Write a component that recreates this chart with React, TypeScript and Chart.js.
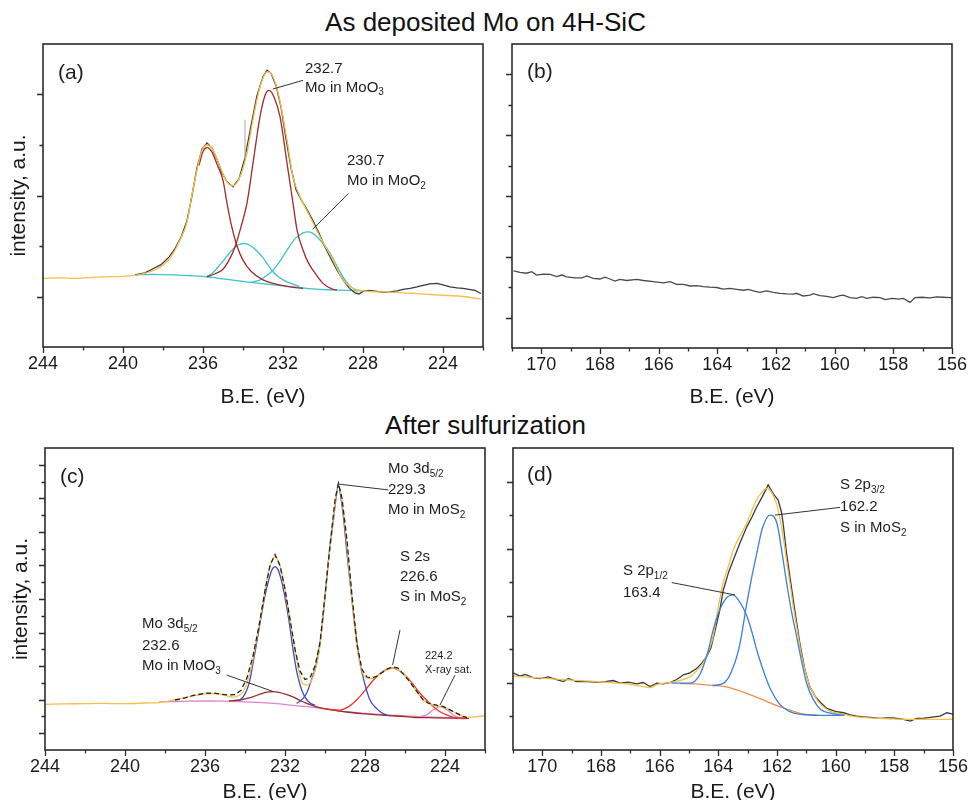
import React, { useEffect, useRef } from 'react';
import { Chart, registerables } from 'chart.js';

Chart.register(...registerables);

type Pt = [number, number];
type Seg = [number, number, number, number];

const FONT = '"Liberation Sans", Arial, Helvetica, sans-serif';
Chart.defaults.font.family = FONT;

// ---------- text ----------
const topTitle = 'As deposited Mo on 4H-SiC';
const bottomTitle = 'After sulfurization';
const xTitle = 'B.E. (eV)';
const yTitle = 'intensity, a.u.';

// ---------- axes ----------
const moRange: Pt = [222, 244];
const sRange: Pt = [156, 171];
const moTickLabels = [244, 240, 236, 232, 228, 224];
const sTickLabels = [170, 168, 166, 164, 162, 160, 158, 156];

// ---------- panel (a): Mo 3d, as deposited ----------
const aRaw: Pt[] = [
  [239.4, 1.43], [238.9, 1.47], [238.5, 1.55], [238.1, 1.63], [237.7, 1.78], [237.4, 1.95], [237.1, 2.17],
  [236.8, 2.5], [236.55, 3.0], [236.3, 3.55], [236.05, 3.92], [235.8, 4.04], [235.55, 3.94], [235.3, 3.72],
  [235.05, 3.45], [234.8, 3.27], [234.5, 3.17], [234.2, 3.33], [233.9, 3.75], [233.6, 4.38], [233.3, 4.98],
  [233.0, 5.35], [232.8, 5.48], [232.6, 5.42], [232.35, 5.18], [232.1, 4.75], [231.85, 4.12], [231.6, 3.55],
  [231.35, 3.12], [231.1, 2.92], [230.8, 2.72], [230.5, 2.5], [230.2, 2.25], [229.9, 1.98], [229.6, 1.75],
  [229.3, 1.52], [229.0, 1.33], [228.7, 1.17], [228.4, 1.07], [228.2, 1.05], [228.0, 1.1], [227.7, 1.12],
  [227.3, 1.1], [227.0, 1.08], [226.65, 1.09], [226.3, 1.11], [226.0, 1.14], [225.65, 1.16], [225.3, 1.19],
  [225.0, 1.22], [224.65, 1.25], [224.3, 1.26], [224.0, 1.23], [223.65, 1.19], [223.3, 1.17], [223.0, 1.16],
  [222.7, 1.14], [222.4, 1.12], [222.1, 1.06],
];
const aEnvelope: Pt[] = [
  [244.0, 1.36], [243.2, 1.37], [242.4, 1.36], [241.6, 1.38], [240.8, 1.39], [240.0, 1.4], [239.4, 1.42],
  [238.65, 1.49], [238.0, 1.62], [237.5, 1.85], [237.15, 2.12], [236.8, 2.47], [236.57, 2.98], [236.3, 3.5],
  [236.07, 3.87], [235.8, 4.0], [235.5, 3.9], [235.15, 3.57], [234.8, 3.27], [234.5, 3.19], [234.15, 3.37],
  [233.8, 3.84], [233.5, 4.5], [233.15, 5.15], [232.8, 5.45], [232.55, 5.39], [232.2, 4.96], [231.8, 4.1],
  [231.5, 3.37], [231.15, 2.98], [230.65, 2.58], [230.15, 2.18], [229.5, 1.72], [229.0, 1.33], [228.5, 1.16],
  [228.0, 1.11], [227.0, 1.09], [226.3, 1.08], [225.5, 1.06], [224.65, 1.04], [223.8, 1.02], [223.0, 1.0],
  [222.1, 0.95],
];
const aBackground: Pt[] = [
  [239.4, 1.43], [238.5, 1.44], [237.5, 1.43], [236.5, 1.41], [235.8, 1.39], [235.0, 1.35], [234.2, 1.31],
  [233.4, 1.27], [232.7, 1.24], [232.0, 1.21], [231.2, 1.18], [230.5, 1.15], [229.5, 1.13], [228.8, 1.12],
  [228.0, 1.11],
];
const aMoO2Peak1: Pt[] = [
  [235.8, 1.4], [235.5, 1.47], [235.3, 1.56], [235.0, 1.7], [234.8, 1.8], [234.5, 1.94], [234.2, 2.03],
  [233.9, 2.05], [233.6, 2.0], [233.3, 1.9], [233.0, 1.77], [232.75, 1.62], [232.5, 1.49], [232.2, 1.38],
  [231.9, 1.31], [231.6, 1.26], [231.2, 1.2],
];
const aMoO2Peak2: Pt[] = [
  [233.6, 1.28], [233.15, 1.33], [232.8, 1.42], [232.5, 1.52], [232.1, 1.73], [231.8, 1.92], [231.4, 2.14],
  [231.0, 2.26], [230.7, 2.28], [230.4, 2.22], [230.0, 2.05], [229.65, 1.86], [229.3, 1.6], [229.0, 1.39],
  [228.7, 1.23], [228.5, 1.16], [228.2, 1.12],
];
const aMoO3Peak1: Pt[] = [
  [236.2, 3.6], [236.0, 3.87], [235.8, 3.95], [235.55, 3.86], [235.3, 3.62], [235.0, 3.3], [234.8, 2.85],
  [234.6, 2.45], [234.3, 2.0], [234.0, 1.72], [233.6, 1.5], [233.0, 1.33], [232.4, 1.25], [231.8, 1.2],
  [231.0, 1.16],
];
const aMoO3Peak2: Pt[] = [
  [235.8, 1.39], [235.4, 1.45], [235.0, 1.54], [234.7, 1.72], [234.4, 1.98], [234.1, 2.38], [233.8, 2.85],
  [233.5, 3.64], [233.15, 4.56], [232.9, 4.98], [232.7, 5.08], [232.45, 4.95], [232.15, 4.56], [231.8, 3.64],
  [231.5, 2.85], [231.3, 2.32], [231.0, 1.92], [230.75, 1.68], [230.5, 1.52], [230.0, 1.26], [229.5, 1.14],
  [229.3, 1.13],
];
const aSpike: Pt[] = [[233.9, 4.5], [233.9, 3.72]];

// ---------- panel (b): S 2p, as deposited ----------
const bRaw: Pt[] = [
  [170.95, 2.54], [170.73, 2.49], [170.5, 2.46], [170.33, 2.51], [170.16, 2.4], [169.93, 2.43], [169.7, 2.42],
  [169.48, 2.35], [169.3, 2.4], [169.14, 2.34], [168.85, 2.31], [168.62, 2.31], [168.45, 2.37], [168.23, 2.29],
  [168.0, 2.27], [167.83, 2.33], [167.66, 2.27], [167.49, 2.2], [167.32, 2.26], [167.09, 2.22], [166.75, 2.26],
  [166.52, 2.22], [166.18, 2.18], [165.84, 2.14], [165.61, 2.18], [165.39, 2.09], [165.16, 2.09], [164.93, 2.04],
  [164.7, 2.05], [164.48, 2.02], [164.25, 2.0], [164.02, 1.99], [163.8, 1.94], [163.57, 1.96], [163.34, 1.93],
  [163.11, 1.9], [162.94, 1.93], [162.77, 1.88], [162.55, 1.83], [162.32, 1.88], [162.09, 1.83], [161.86, 1.8],
  [161.64, 1.78], [161.41, 1.77], [161.3, 1.8], [161.07, 1.71], [160.84, 1.74], [160.73, 1.79], [160.5, 1.72],
  [160.27, 1.7], [160.05, 1.66], [159.82, 1.72], [159.7, 1.74], [159.48, 1.66], [159.25, 1.63], [159.08, 1.69],
  [158.91, 1.63], [158.68, 1.67], [158.45, 1.66], [158.28, 1.59], [158.05, 1.63], [157.82, 1.61], [157.66, 1.63],
  [157.43, 1.5], [157.26, 1.66], [157.03, 1.67], [156.75, 1.65], [156.52, 1.68], [156.3, 1.67], [156.07, 1.66],
  [156.0, 1.66],
];

// ---------- panel (c): Mo 3d + S 2s, after sulfurization ----------
const cEnvelope: Pt[] = [
  [244.0, 2.72], [243.0, 2.75], [242.0, 2.76], [241.25, 2.78], [240.0, 2.76], [239.0, 2.8], [238.2, 2.84],
  [237.58, 2.98], [237.0, 3.12], [236.58, 3.22], [236.0, 3.34], [235.5, 3.36], [235.08, 3.28], [234.58, 3.15],
  [234.3, 3.25], [234.08, 3.5], [233.75, 4.6], [233.42, 6.6], [233.08, 8.9], [232.83, 10.6], [232.5, 11.52],
  [232.17, 10.6], [231.83, 8.3], [231.5, 5.96], [231.17, 4.07], [230.92, 3.87], [230.58, 4.4], [230.25, 6.2],
  [229.92, 10.2], [229.58, 13.8], [229.33, 15.8], [229.08, 14.2], [228.75, 10.2], [228.42, 6.3], [228.08, 4.5],
  [227.75, 4.25], [227.42, 4.37], [227.08, 4.67], [226.58, 4.9], [226.08, 4.55], [225.58, 3.77], [225.08, 2.98],
  [224.58, 2.66], [224.08, 2.55], [223.42, 2.19], [222.92, 1.95], [222.5, 1.98], [222.0, 2.03],
];
const cRaw: Pt[] = [
  [237.5, 2.98], [237.0, 3.1], [236.6, 3.25], [236.0, 3.38], [235.6, 3.4], [235.2, 3.32], [234.8, 3.28],
  [234.5, 3.3], [234.2, 3.55], [233.9, 4.3], [233.6, 5.6], [233.3, 7.4], [233.0, 9.5], [232.75, 11.0],
  [232.5, 11.65], [232.25, 11.0], [232.0, 9.6], [231.75, 7.8], [231.5, 6.0], [231.25, 4.7], [231.0, 4.2],
  [230.75, 4.3], [230.5, 5.0], [230.25, 6.4], [230.0, 9.2], [229.75, 12.2], [229.5, 14.9], [229.33, 15.9],
  [229.15, 15.0], [228.9, 12.5], [228.65, 9.2], [228.4, 6.3], [228.15, 4.8], [227.9, 4.35], [227.65, 4.3],
  [227.4, 4.4], [227.1, 4.65], [226.85, 4.85], [226.6, 4.95], [226.35, 4.88], [226.1, 4.55], [225.85, 4.2],
  [225.6, 3.8], [225.35, 3.4], [225.1, 3.0], [224.85, 2.8], [224.6, 2.72], [224.35, 2.65], [224.1, 2.6],
  [223.85, 2.45], [223.6, 2.3], [223.35, 2.15], [223.1, 2.0], [222.9, 1.93],
];
const cBackground: Pt[] = [
  [238.3, 2.86], [237.75, 2.88], [236.8, 2.91], [235.92, 2.92], [235.0, 2.91], [234.25, 2.88], [233.4, 2.84],
  [232.58, 2.78], [231.7, 2.68], [230.92, 2.58], [230.0, 2.44], [229.25, 2.32], [228.4, 2.22], [227.58, 2.15],
  [226.7, 2.08], [225.92, 2.03], [225.0, 1.98], [224.25, 1.95], [223.5, 1.91], [222.92, 1.89],
];
const cXraySat: Pt[] = [
  [225.2, 2.0], [224.9, 2.1], [224.6, 2.38], [224.25, 2.58], [223.9, 2.4], [223.6, 2.1], [223.3, 1.93],
  [223.0, 1.9],
];
const cMoO3: Pt[] = [
  [234.8, 2.92], [234.25, 2.98], [233.9, 3.07], [233.58, 3.18], [233.2, 3.35], [232.9, 3.45], [232.6, 3.48],
  [232.3, 3.44], [231.9, 3.3], [231.58, 3.15], [231.2, 2.92], [230.92, 2.78], [230.5, 2.6], [230.08, 2.48],
  [229.5, 2.36], [228.8, 2.25], [228.0, 2.15], [227.0, 2.06], [226.0, 1.99], [225.58, 1.95], [224.5, 1.92],
  [223.5, 1.9], [222.8, 1.89],
];
const cS2s: Pt[] = [
  [230.08, 2.48], [229.6, 2.4], [229.25, 2.38], [228.8, 2.6], [228.42, 2.98], [228.0, 3.55], [227.58, 4.17],
  [227.2, 4.6], [226.92, 4.8], [226.58, 4.88], [226.25, 4.7], [225.92, 4.37], [225.58, 3.9], [225.25, 3.38],
  [224.9, 2.95], [224.58, 2.58], [224.25, 2.28], [223.92, 2.09], [223.6, 1.96], [223.25, 1.89], [222.9, 1.87],
];
const cMoS2Peak1: Pt[] = [
  [234.3, 2.95], [234.1, 3.15], [233.9, 3.6], [233.75, 4.2], [233.58, 5.3], [233.4, 6.5], [233.2, 7.9],
  [233.0, 9.2], [232.8, 10.2], [232.65, 10.75], [232.5, 10.93], [232.35, 10.75], [232.2, 10.2], [232.0, 9.1],
  [231.8, 7.7], [231.6, 6.0], [231.4, 4.6], [231.2, 3.7], [231.0, 3.15], [230.75, 2.8], [230.5, 2.66],
];
const cMoS2Peak2: Pt[] = [
  [231.42, 2.78], [231.2, 2.95], [230.92, 3.38], [230.7, 4.1], [230.42, 5.17], [230.2, 6.8], [230.0, 9.14],
  [229.8, 11.6], [229.58, 13.7], [229.45, 15.0], [229.33, 15.8], [229.2, 15.0], [229.08, 13.9], [228.9, 11.7],
  [228.67, 9.14], [228.45, 6.8], [228.25, 5.17], [228.0, 3.9], [227.75, 2.98], [227.4, 2.45], [227.08, 2.15],
  [226.9, 2.1],
];

// ---------- panel (d): S 2p, after sulfurization ----------
const dRaw: Pt[] = [
  [171.0, 2.3], [170.76, 2.2], [170.59, 2.25], [170.31, 2.16], [170.08, 2.13], [169.8, 2.18], [169.51, 2.1],
  [169.28, 2.04], [169.11, 2.13], [168.83, 2.04], [168.49, 2.04], [168.15, 2.02], [167.86, 2.04], [167.58, 2.07],
  [167.35, 1.99], [167.07, 2.02], [166.78, 1.97], [166.56, 2.01], [166.33, 1.89], [166.1, 1.99], [165.87, 1.97],
  [165.65, 2.01], [165.42, 2.1], [165.19, 2.24], [164.97, 2.3], [164.74, 2.43], [164.57, 2.58], [164.4, 2.78],
  [164.25, 3.05], [164.1, 3.6], [163.95, 4.17], [163.83, 4.77], [163.65, 5.3], [163.49, 5.66], [163.25, 6.2],
  [163.03, 6.65], [162.85, 6.95], [162.69, 7.25], [162.5, 7.55], [162.3, 7.9], [162.1, 7.6], [161.96, 7.45],
  [161.85, 7.1], [161.79, 6.75], [161.68, 5.9], [161.56, 5.17], [161.4, 4.2], [161.22, 3.18], [161.05, 2.4],
  [160.88, 1.88], [160.7, 1.6], [160.5, 1.4], [160.3, 1.24], [159.96, 1.14], [159.73, 1.11], [159.5, 1.05],
  [159.28, 1.01], [159.05, 0.99], [158.82, 0.97], [158.48, 0.94], [158.25, 0.96], [158.03, 0.96], [157.69, 0.91],
  [157.46, 0.86], [157.23, 0.94], [157.0, 0.95], [156.78, 0.97], [156.44, 1.01], [156.21, 1.11], [156.0, 1.07],
];
const dEnvelope: Pt[] = [
  [171.0, 2.2], [170.0, 2.14], [169.0, 2.08], [168.0, 2.03], [167.0, 1.96], [166.5, 1.88], [166.3, 1.86],
  [166.1, 1.95], [165.65, 2.01], [165.2, 2.1], [164.9, 2.22], [164.74, 2.36], [164.55, 2.55], [164.4, 2.8],
  [164.2, 3.3], [164.06, 3.97], [163.84, 4.97], [163.65, 5.5], [163.49, 5.96], [163.25, 6.4], [163.04, 6.75],
  [162.7, 7.45], [162.5, 7.7], [162.36, 7.8], [162.2, 7.7], [162.02, 7.35], [161.9, 6.9], [161.79, 6.36],
  [161.67, 5.6], [161.56, 4.97], [161.45, 4.3], [161.33, 3.67], [161.2, 3.0], [161.05, 2.38], [160.9, 1.95],
  [160.76, 1.69], [160.6, 1.45], [160.42, 1.29], [160.2, 1.16], [159.86, 1.09], [159.5, 1.02], [159.06, 0.97],
  [158.5, 0.94], [157.92, 0.92], [157.0, 0.91], [156.0, 0.91],
];
const dBackground: Pt[] = [
  [165.3, 1.98], [164.8, 1.97], [164.4, 1.94], [163.76, 1.89], [163.2, 1.74], [162.6, 1.54], [162.0, 1.32],
  [161.46, 1.16], [161.1, 1.07], [160.64, 1.04],
];
const dS2p12: Pt[] = [
  [165.6, 1.99], [165.0, 1.99], [164.8, 2.05], [164.6, 2.3], [164.34, 2.98], [164.17, 3.6], [163.94, 4.2],
  [163.7, 4.55], [163.5, 4.62], [163.3, 4.45], [163.03, 4.0], [162.85, 3.5], [162.69, 2.98], [162.5, 2.45],
  [162.24, 1.85], [161.9, 1.36], [161.5, 1.12], [161.0, 1.05], [160.3, 1.03], [159.7, 1.03],
];
const dS2p32: Pt[] = [
  [164.2, 1.92], [163.8, 2.0], [163.5, 2.45], [163.26, 3.18], [163.03, 4.37], [162.85, 5.2], [162.69, 5.86],
  [162.5, 6.6], [162.24, 7.0], [162.0, 6.75], [161.85, 6.0], [161.67, 4.97], [161.5, 4.1], [161.33, 3.38],
  [161.15, 2.6], [160.99, 1.99], [160.76, 1.5], [160.5, 1.2], [160.19, 1.1], [159.74, 1.03],
];

// ---------- annotations (anchor in data units) ----------
type Note = { x: number; y: number; text: string; size: number };
const aNotes: Note[] = [
  { x: 230.9, y: 5.5, text: '232.7', size: 15 },
  { x: 230.9, y: 5.14, text: 'Mo in MoO_{3}', size: 15 },
  { x: 228.8, y: 3.68, text: '230.7', size: 15 },
  { x: 228.8, y: 3.29, text: 'Mo in MoO_{2}', size: 15 },
  { x: 243.25, y: 5.43, text: '(a)', size: 21 },
];
const aLeaders: Seg[] = [[232.5, 5.11, 231.0, 5.28], [228.73, 3.04, 230.52, 2.33]];
const bNotes: Note[] = [{ x: 170.49, y: 9.08, text: '(b)', size: 21 }];
const cNotes: Note[] = [
  { x: 226.85, y: 16.75, text: 'Mo 3d_{5/2}', size: 15 },
  { x: 226.85, y: 15.5, text: '229.3', size: 15 },
  { x: 226.85, y: 14.3, text: 'Mo in MoS_{2}', size: 15 },
  { x: 226.25, y: 11.5, text: 'S 2s', size: 15 },
  { x: 226.25, y: 10.31, text: '226.6', size: 15 },
  { x: 226.25, y: 9.12, text: 'S in MoS_{2}', size: 15 },
  { x: 239.15, y: 7.51, text: 'Mo 3d_{5/2}', size: 15 },
  { x: 239.15, y: 6.2, text: '232.6', size: 15 },
  { x: 239.15, y: 5.0, text: 'Mo in MoO_{3}', size: 15 },
  { x: 225.0, y: 5.6, text: '224.2', size: 11 },
  { x: 225.0, y: 4.77, text: 'X-ray sat.', size: 11 },
  { x: 243.25, y: 16.27, text: '(c)', size: 21 },
];
const cLeaders: Seg[] = [
  [229.33, 15.85, 226.83, 15.5], [226.25, 7.15, 226.62, 5.07], [234.92, 4.47, 232.58, 3.48], [223.5, 4.47, 224.25, 2.68],
];
const dNotes: Note[] = [
  { x: 159.85, y: 7.9, text: 'S 2p_{3/2}', size: 15 },
  { x: 159.85, y: 7.24, text: '162.2', size: 15 },
  { x: 159.85, y: 6.62, text: 'S in MoS_{2}', size: 15 },
  { x: 167.25, y: 5.33, text: 'S 2p_{1/2}', size: 15 },
  { x: 167.25, y: 4.68, text: '163.4', size: 15 },
  { x: 170.52, y: 8.19, text: '(d)', size: 21 },
];
const dLeaders: Seg[] = [[162.07, 7.0, 159.85, 7.23], [165.59, 4.99, 163.43, 4.62]];

// ---------- styling ----------
const RAW = '#3a3a3a';
const ENV = '#f3c04a';

type Line = { pts: Pt[]; color: string; width?: number; dash?: number[]; smooth?: boolean };
type Spec = {
  box: { x: number; y: number; w: number; h: number };
  xr: Pt; xStep: number; labels: number[]; yMax: number; yMajorOdd: boolean;
  yWidth: number; xHeight: number; padTop: number; padRight: number;
  yTitlePad: number | null; xTitlePadBottom: number;
  lines: Line[]; notes: Note[]; leaders: Seg[];
};

function drawRich(ctx: CanvasRenderingContext2D, x: number, y: number, text: string, size: number) {
  const parts = text.split(/(_\{[^}]*\})/).filter(Boolean);
  let cx = x;
  for (const p of parts) {
    if (p.startsWith('_{')) {
      const t = p.slice(2, -1);
      ctx.font = `${Math.round(size * 0.66)}px ${FONT}`;
      ctx.fillText(t, cx, y + size * 0.34);
      cx += ctx.measureText(t).width;
    } else {
      ctx.font = `${size}px ${FONT}`;
      ctx.fillText(p, cx, y);
      cx += ctx.measureText(p).width;
    }
  }
}

function makeDecor(spec: Spec) {
  return {
    id: 'decor',
    afterDraw(chart: any) {
      const ctx: CanvasRenderingContext2D = chart.ctx;
      const xs = chart.scales.x;
      const ys = chart.scales.y;
      const a = chart.chartArea;
      ctx.save();
      ctx.strokeStyle = '#2b2b2b';
      ctx.lineWidth = 1.3;
      ctx.beginPath();
      for (const t of xs.ticks) {
        const v = Math.round(t.value);
        const px = Math.round(xs.getPixelForValue(t.value)) + 0.5;
        const len = spec.labels.includes(v) ? 6 : 3.5;
        ctx.moveTo(px, a.bottom);
        ctx.lineTo(px, a.bottom + len);
      }
      for (const t of ys.ticks) {
        const v = Math.round(t.value);
        if (v <= 0 || v >= spec.yMax) continue;
        const major = spec.yMajorOdd ? v % 2 === 1 : v % 2 === 0;
        const py = Math.round(ys.getPixelForValue(t.value)) + 0.5;
        ctx.moveTo(a.left, py);
        ctx.lineTo(a.left - (major ? 6 : 3.5), py);
      }
      ctx.stroke();
      ctx.lineWidth = 1.6;
      ctx.strokeRect(a.left, a.top, a.right - a.left, a.bottom - a.top);
      // leader lines
      ctx.strokeStyle = '#333';
      ctx.lineWidth = 1;
      for (const [x1, y1, x2, y2] of spec.leaders) {
        ctx.beginPath();
        ctx.moveTo(xs.getPixelForValue(x1), ys.getPixelForValue(y1));
        ctx.lineTo(xs.getPixelForValue(x2), ys.getPixelForValue(y2));
        ctx.stroke();
      }
      ctx.fillStyle = '#1e1e1e';
      ctx.textBaseline = 'middle';
      ctx.textAlign = 'left';
      for (const n of spec.notes) {
        drawRich(ctx, xs.getPixelForValue(n.x), ys.getPixelForValue(n.y), n.text, n.size);
      }
      ctx.restore();
    },
  };
}

function Panel({ spec }: { spec: Spec }) {
  const ref = useRef<HTMLCanvasElement>(null);
  useEffect(() => {
    const datasets = spec.lines
      .map((l) => ({
        data: l.pts.map(([x, y]) => ({ x, y })),
        borderColor: l.color,
        backgroundColor: l.color,
        borderWidth: l.width ?? 1.3,
        borderDash: l.dash ?? [],
        pointRadius: 0,
        fill: false,
        tension: l.smooth === false ? 0 : 0.4,
        cubicInterpolationMode: l.smooth === false ? 'default' : 'monotone',
      }))
      .reverse();
    const chart = new Chart(ref.current as HTMLCanvasElement, {
      type: 'line',
      data: { datasets } as any,
      options: {
        responsive: false,
        animation: false,
        layout: { padding: { left: 0, top: spec.padTop, right: spec.padRight, bottom: 0 } },
        plugins: { legend: { display: false }, tooltip: { enabled: false } },
        scales: {
          x: {
            type: 'linear',
            min: spec.xr[0],
            max: spec.xr[1],
            reverse: true,
            grid: { display: false, drawTicks: false },
            border: { display: false },
            ticks: {
              stepSize: spec.xStep,
              maxTicksLimit: 100,
              autoSkip: false,
              maxRotation: 0,
              padding: 6,
              color: '#1a1a1a',
              font: { size: 18, family: FONT },
              callback: (v: any) => (spec.labels.includes(Math.round(Number(v))) ? String(Math.round(Number(v))) : ''),
            },
            title: {
              display: true,
              text: xTitle,
              color: '#1a1a1a',
              font: { size: 21, family: FONT },
              padding: { top: 0, bottom: spec.xTitlePadBottom },
            },
            afterFit: (s: any) => {
              s.height = spec.xHeight;
              s.paddingLeft = 0;
              s.paddingRight = 0;
            },
          },
          y: {
            type: 'linear',
            min: 0,
            max: spec.yMax,
            grid: { display: false, drawTicks: false },
            border: { display: false },
            ticks: { display: false, stepSize: 1, maxTicksLimit: 100 },
            title: {
              display: spec.yTitlePad !== null,
              text: yTitle,
              color: '#1a1a1a',
              font: { size: 21, family: FONT },
              padding: { top: spec.yTitlePad ?? 0, bottom: 0 },
            },
            afterFit: (s: any) => {
              s.width = spec.yWidth;
              s.paddingTop = 0;
              s.paddingBottom = 0;
            },
          },
        },
      } as any,
      plugins: [makeDecor(spec)],
    });
    return () => chart.destroy();
  }, []);
  const { x, y, w, h } = spec.box;
  return (
    <canvas
      ref={ref}
      width={w}
      height={h}
      style={{ position: 'absolute', left: x, top: y, width: w, height: h }}
    />
  );
}

const specA: Spec = {
  box: { x: 0, y: 30, w: 490, h: 380 },
  xr: moRange, xStep: 2, labels: moTickLabels, yMax: 6, yMajorOdd: true,
  yWidth: 43, xHeight: 63, padTop: 14, padRight: 7, yTitlePad: 6.5, xTitlePadBottom: 0,
  lines: [
    { pts: aBackground, color: '#3cc3cc' },
    { pts: aMoO2Peak1, color: '#3cc3cc' },
    { pts: aMoO2Peak2, color: '#3cc3cc' },
    { pts: aMoO3Peak1, color: '#a3292b' },
    { pts: aMoO3Peak2, color: '#a3292b' },
    { pts: aRaw, color: RAW, width: 1.3, smooth: false },
    { pts: aEnvelope, color: ENV, width: 1.3 },
    { pts: aSpike, color: '#b5b5b5', width: 1.2, smooth: false },
  ],
  notes: aNotes, leaders: aLeaders,
};

const specB: Spec = {
  box: { x: 490, y: 30, w: 481, h: 380 },
  xr: sRange, xStep: 1, labels: sTickLabels, yMax: 10, yMajorOdd: true,
  yWidth: 22, xHeight: 62, padTop: 14, padRight: 19, yTitlePad: null, xTitlePadBottom: 0,
  lines: [{ pts: bRaw, color: '#4a4a4a', width: 1.3, smooth: false }],
  notes: bNotes, leaders: [],
};

const specC: Spec = {
  box: { x: 0, y: 410, w: 490, h: 390 },
  xr: moRange, xStep: 2, labels: moTickLabels, yMax: 18, yMajorOdd: true,
  yWidth: 45, xHeight: 50, padTop: 38, padRight: 5, yTitlePad: 9, xTitlePadBottom: -5,
  lines: [
    { pts: cBackground, color: '#d987d2' },
    { pts: cXraySat, color: '#d987d2' },
    { pts: cMoO3, color: '#9b2d2d' },
    { pts: cS2s, color: '#f03535' },
    { pts: cMoS2Peak1, color: '#3b4cc0' },
    { pts: cMoS2Peak2, color: '#3b4cc0' },
    { pts: cEnvelope, color: ENV, width: 1.3 },
    { pts: cRaw, color: '#222', width: 1.3, dash: [5, 3], smooth: false },
  ],
  notes: cNotes, leaders: cLeaders,
};

const specD: Spec = {
  box: { x: 490, y: 410, w: 481, h: 390 },
  xr: sRange, xStep: 1, labels: sTickLabels, yMax: 9, yMajorOdd: false,
  yWidth: 23, xHeight: 50, padTop: 38, padRight: 18, yTitlePad: null, xTitlePadBottom: -5,
  lines: [
    { pts: dRaw, color: RAW, width: 1.3, smooth: false },
    { pts: dEnvelope, color: ENV, width: 1.3 },
    { pts: dBackground, color: '#f28c50' },
    { pts: dS2p12, color: '#3d7fd6' },
    { pts: dS2p32, color: '#3d7fd6' },
  ],
  notes: dNotes, leaders: dLeaders,
};

const titleStyle = (top: number): React.CSSProperties => ({
  position: 'absolute',
  left: 0,
  top,
  width: 971,
  textAlign: 'center',
  fontFamily: FONT,
  fontSize: 26,
  lineHeight: '26px',
  color: '#111',
  whiteSpace: 'nowrap',
});

export default function App() {
  return (
    <div style={{ position: 'absolute', left: 0, top: 0, width: 971, height: 800, overflow: 'hidden', background: '#fff' }}>
      <div style={titleStyle(9)}>{topTitle}</div>
      <div style={titleStyle(412)}>{bottomTitle}</div>
      <Panel spec={specA} />
      <Panel spec={specB} />
      <Panel spec={specC} />
      <Panel spec={specD} />
    </div>
  );
}
